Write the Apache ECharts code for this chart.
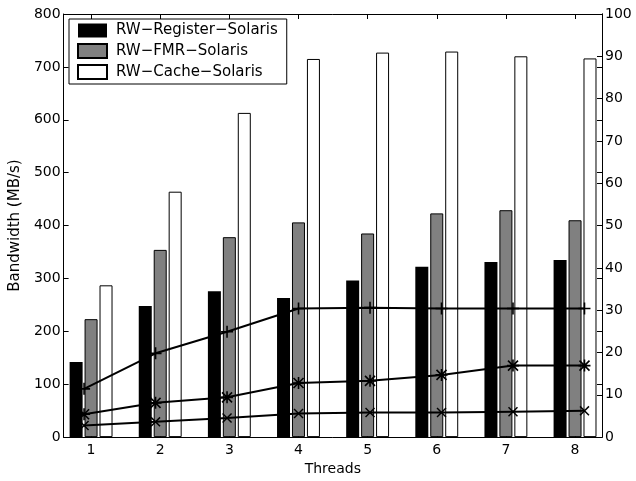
<!DOCTYPE html>
<html>
<head>
<meta charset="utf-8">
<script src="https://cdn.jsdelivr.net/npm/echarts@6/dist/echarts.min.js"></script>
<style>
  html, body { margin: 0; padding: 0; background: #fff; }
  #chart { width: 636px; height: 481px; }
</style>
</head>
<body>
<div id="chart"></div>
<script>
// data
const threads = [1, 2, 3, 4, 5, 6, 7, 8];
const registerBw = [142, 248, 276, 263, 296, 322, 331, 335];
const fmrBw = [223, 354, 378, 406, 385, 423, 429, 410];
const cacheBw = [287, 464, 613, 715, 727, 729, 720, 716];
// right axis lines
const plusLine = [11.4, 19.8, 24.9, 30.4, 30.6, 30.4, 30.4, 30.4];
const starLine = [5.4, 8.1, 9.4, 12.8, 13.3, 14.7, 16.9, 16.9];
const crossLine = [2.75, 3.6, 4.5, 5.6, 5.8, 5.8, 6.0, 6.2];

const leftTicks = [0, 100, 200, 300, 400, 500, 600, 700, 800];
const rightTicks = [0, 10, 20, 30, 40, 50, 60, 70, 80, 90, 100];

const FONT = "DejaVu Sans";

// marker shapes (filled outlines)
const plusPath = "path://M-0.8,-6L-0.8,6L0.8,6L0.8,-6Z M-6,0.8L6,0.8L6,-0.8L-6,-0.8Z";
const crossPath = "path://M-5.566,-4.434L4.434,5.566L5.566,4.434L-4.434,-5.566Z M-4.434,5.566L5.566,-4.434L4.434,-5.566L-5.566,4.434Z";
const starPath = "path://M-0.8,-6L-0.8,6L0.8,6L0.8,-6Z M-6,0.8L6,0.8L6,-0.8L-6,-0.8Z M-5.566,-4.434L4.434,5.566L5.566,4.434L-4.434,-5.566Z M-4.434,5.566L5.566,-4.434L4.434,-5.566L-5.566,4.434Z";

function pairs(xs, ys) {
  return xs.map((x, i) => [x, ys[i]]);
}

const chart = echarts.init(document.getElementById("chart"), null, { renderer: "canvas" });

const tickCommon = { inside: true, length: 5, lineStyle: { color: "#000", width: 1 } };
const lineCommon = { show: true, onZero: false, lineStyle: { color: "#000", width: 1 } };
const labelCommon = { color: "#000", fontFamily: FONT, fontSize: 14 };

const option = {
  animation: false,
  backgroundColor: "#fff",
  textStyle: { fontFamily: FONT },
  grid: { left: 63, right: 34, top: 14, bottom: 42, containLabel: false },
  legend: {
    data: ["RW\u2212Register\u2212Solaris", "RW\u2212FMR\u2212Solaris", "RW\u2212Cache\u2212Solaris"],
    orient: "vertical",
    left: 69,
    top: 19,
    padding: [4, 9, 4, 8],
    itemWidth: 29,
    itemHeight: 14,
    itemGap: 5,
    backgroundColor: "#fff",
    borderColor: "#000",
    borderWidth: 1,
    borderRadius: 0,
    icon: "rect",
    selectedMode: false,
    textStyle: { color: "#000", fontFamily: FONT, fontSize: 15, padding: [0, 0, 0, 4] }
  },
  xAxis: [
    {
      type: "value",
      position: "bottom",
      min: 0.603,
      max: 8.39,
      name: "Threads",
      nameLocation: "middle",
      nameGap: 24,
      nameTextStyle: labelCommon,
      axisLine: lineCommon,
      axisTick: Object.assign({ customValues: threads }, tickCommon),
      axisLabel: Object.assign({ customValues: threads, margin: 6 }, labelCommon),
      splitLine: { show: false }
    },
    {
      // lines sit on a slightly different x scale
      type: "value",
      position: "bottom",
      min: 0.714,
      max: 8.245,
      show: false
    },
    {
      type: "value",
      position: "top",
      min: 0.603,
      max: 8.39,
      axisLine: lineCommon,
      axisTick: Object.assign({ customValues: threads }, tickCommon),
      axisLabel: { show: false },
      splitLine: { show: false }
    }
  ],
  yAxis: [
    {
      type: "value",
      position: "left",
      min: 0,
      max: 800,
      interval: 100,
      name: "Bandwidth (MB/s)",
      nameLocation: "middle",
      nameGap: 39,
      nameRotate: 90,
      nameTextStyle: Object.assign({}, labelCommon, { fontSize: 15 }),
      axisLine: lineCommon,
      axisTick: tickCommon,
      axisLabel: Object.assign({ customValues: leftTicks, margin: 3 }, labelCommon),
      splitLine: { show: false }
    },
    {
      type: "value",
      position: "right",
      min: 0,
      max: 100,
      interval: 10,
      axisLine: lineCommon,
      axisTick: tickCommon,
      axisLabel: Object.assign({ customValues: rightTicks, margin: 3 }, labelCommon),
      splitLine: { show: false }
    },
    {
      // left scale ticks mirrored on the right edge
      type: "value",
      position: "right",
      min: 0,
      max: 800,
      interval: 100,
      axisLine: lineCommon,
      axisTick: tickCommon,
      axisLabel: { show: false },
      splitLine: { show: false }
    }
  ],
  series: [
    {
      name: "RW\u2212Register\u2212Solaris",
      type: "bar",
      xAxisIndex: 0,
      yAxisIndex: 0,
      barWidth: 13,
      barGap: "15%",
      itemStyle: { color: "#000", borderColor: "#000", borderWidth: 0 },
      data: pairs(threads, registerBw)
    },
    {
      name: "RW\u2212FMR\u2212Solaris",
      type: "bar",
      xAxisIndex: 0,
      yAxisIndex: 0,
      barWidth: 13,
      barGap: "15%",
      itemStyle: { color: "#808080", borderColor: "#000", borderWidth: 1 },
      data: pairs(threads, fmrBw)
    },
    {
      name: "RW\u2212Cache\u2212Solaris",
      type: "bar",
      xAxisIndex: 0,
      yAxisIndex: 0,
      barWidth: 13,
      barGap: "15%",
      itemStyle: { color: "#fff", borderColor: "#000", borderWidth: 1 },
      data: pairs(threads, cacheBw)
    },
    {
      name: "plus",
      type: "line",
      xAxisIndex: 1,
      yAxisIndex: 1,
      z: 5,
      symbol: plusPath,
      symbolSize: 12,
      showAllSymbol: true,
      lineStyle: { color: "#000", width: 2 },
      itemStyle: { color: "#000", borderWidth: 0 },
      data: pairs(threads, plusLine)
    },
    {
      name: "star",
      type: "line",
      xAxisIndex: 1,
      yAxisIndex: 1,
      z: 5,
      symbol: starPath,
      symbolSize: 12,
      showAllSymbol: true,
      lineStyle: { color: "#000", width: 2 },
      itemStyle: { color: "#000", borderWidth: 0 },
      data: pairs(threads, starLine)
    },
    {
      name: "cross",
      type: "line",
      xAxisIndex: 1,
      yAxisIndex: 1,
      z: 5,
      symbol: crossPath,
      symbolSize: 10,
      showAllSymbol: true,
      lineStyle: { color: "#000", width: 2 },
      itemStyle: { color: "#000", borderWidth: 0 },
      data: pairs(threads, crossLine)
    }
  ]
};

chart.setOption(option);
</script>
</body>
</html>
